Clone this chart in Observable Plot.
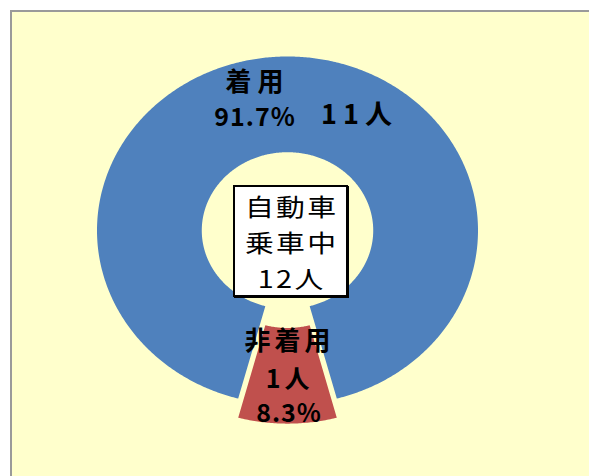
<!DOCTYPE html>
<html>
<head>
<meta charset="utf-8">
<script src="https://cdn.jsdelivr.net/npm/d3@7"></script>
<script src="https://cdn.jsdelivr.net/npm/@observablehq/plot@0.6"></script>
<style>
  html, body { margin: 0; padding: 0; background: #ffffff; overflow: hidden; }
  #wrap { position: relative; width: 589px; height: 476px; overflow: hidden; }
  #frame { position: absolute; left: 10px; top: 10px; width: 620px; height: 520px;
           background: #FFFFCC; border-left: 2px solid #9a9a9a; border-top: 2px solid #9a9a9a; }
  #chart { position: absolute; left: 0; top: 0; }
  #chart svg { background: transparent; }
  #centerBox { position: absolute; left: 233px; top: 185px; width: 111px; height: 108px;
               background: #ffffff; border: 2px solid #000; box-shadow: 1px 1px 0 #000;
               font-family: "Noto Sans CJK JP", sans-serif; font-size: 24px; color: #000;
               text-align: center; box-sizing: content-box; }
  #centerBox div { height: 36px; line-height: 36px; letter-spacing: 2px; padding-left: 2px;
                   transform: scaleX(1.2); }
  #centerBox div:first-child { margin-top: 1px; }
</style>
</head>
<body>
<div id="wrap">
  <div id="frame"></div>
  <div id="chart"></div>
  <div id="centerBox"></div>
</div>
<script>
// ---- data ----
const categories = ["着用", "非着用"];
const counts = [11, 1];
const percentLabels = ["91.7%", "8.3%"];
const countLabels = ["11人", "1人"];
const sliceColors = ["#4F81BD", "#C0504D"];
const explode = [0, 0.11];
const centerLines = ["自動車", "乗車中", "12人"];

// ---- geometry derived from data ----
const firstAngle = 195;      // degrees clockwise from top
const hole = 0.45;           // inner radius ratio
const total = d3.sum(counts);
const rad = Math.PI / 180;

const polyRows = [];
const slices = [];
let a = firstAngle;
categories.forEach((name, i) => {
  const span = counts[i] / total * 360;
  const a0 = a, a1 = a + span, mid = (a0 + a1) / 2;
  const ox = explode[i] * Math.sin(mid * rad), oy = explode[i] * Math.cos(mid * rad);
  const n = Math.max(8, Math.ceil(span * 2));
  for (let k = 0; k <= n; k++) {
    const t = (a0 + (a1 - a0) * k / n) * rad;
    polyRows.push({name, x: ox + Math.sin(t), y: oy + Math.cos(t)});
  }
  for (let k = n; k >= 0; k--) {
    const t = (a0 + (a1 - a0) * k / n) * rad;
    polyRows.push({name, x: ox + hole * Math.sin(t), y: oy + hole * Math.cos(t)});
  }
  const rm = (1 + hole) / 2;
  slices.push({name, pct: percentLabels[i], cnt: countLabels[i],
               x: ox + rm * Math.sin(mid * rad), y: oy + rm * Math.cos(mid * rad)});
  a = a1;
});

const blue = slices[0], red = slices[1];
const labelFont = {fontFamily: "Noto Sans CJK JP, sans-serif", fontWeight: "bold", fill: "#000"};

const plot = Plot.plot({
  width: 589,
  height: 476,
  margin: 0,
  x: {domain: [-1, 1], range: [96.5, 477.5], axis: null},
  y: {domain: [-1, 1], range: [404, 56], axis: null},
  color: {domain: categories, range: sliceColors},
  style: {background: "transparent"},
  marks: [
    Plot.line(polyRows, {x: "x", y: "y", z: "name", fill: "name", stroke: "none", curve: "linear"}),
    // blue labels
    Plot.text([blue], {x: "x", y: "y", text: "name", dx: -33, dy: -22, fontSize: 26, ...labelFont}),
    Plot.text([blue], {x: "x", y: "y", text: "pct", dx: -33, dy: 14, fontSize: 25, ...labelFont}),
    Plot.text([blue], {x: "x", y: "y", text: "cnt", dx: 69, dy: 11, fontSize: 27, ...labelFont}),
    // red labels
    Plot.text([red], {x: "x", y: "y", text: "name", dx: 0, dy: -34, fontSize: 26, ...labelFont}),
    Plot.text([red], {x: "x", y: "y", text: "cnt", dx: 0, dy: 4, fontSize: 25, ...labelFont}),
    Plot.text([red], {x: "x", y: "y", text: "pct", dx: 1, dy: 38, fontSize: 25, ...labelFont})
  ]
});
document.getElementById("chart").appendChild(plot);

// letter spacing per label (Excel-style spaced text)
const spacing = {"着用": 6, "非着用": 4, "11人": 6, "1人": 4, "91.7%": 1, "8.3%": 1};
d3.select(plot).selectAll("text").each(function () {
  const t = this.textContent;
  if (t in spacing) {
    this.setAttribute("letter-spacing", spacing[t]);
    const dx = +(this.getAttribute("dx") || 0);
    this.setAttribute("dx", dx + spacing[t] / 2);
  }
});

const box = document.getElementById("centerBox");
centerLines.forEach(t => {
  const d = document.createElement("div");
  d.textContent = t;
  box.appendChild(d);
});
</script>
</body>
</html>
